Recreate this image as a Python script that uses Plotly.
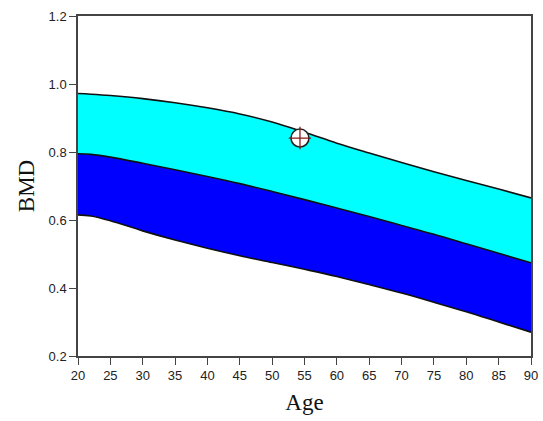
import plotly.graph_objects as go

ages = [20, 22, 25, 30, 35, 40, 45, 50, 55, 60, 65, 70, 75, 80, 85, 90]
upper = [0.972, 0.970, 0.966, 0.957, 0.945, 0.930, 0.912, 0.888, 0.858, 0.826, 0.797, 0.769, 0.742, 0.716, 0.691, 0.665]
middle = [0.795, 0.793, 0.785, 0.767, 0.748, 0.728, 0.707, 0.684, 0.660, 0.635, 0.610, 0.584, 0.558, 0.530, 0.502, 0.474]
lower = [0.615, 0.612, 0.598, 0.568, 0.541, 0.517, 0.495, 0.475, 0.455, 0.434, 0.410, 0.385, 0.358, 0.330, 0.300, 0.270]

patient_age = [54.3]
patient_bmd = [0.841]

line_style = dict(color="#111111", width=1.6, shape="spline", smoothing=1.0)

fig = go.Figure()
fig.add_trace(go.Scatter(x=ages, y=lower, mode="lines", line=line_style, showlegend=False))
fig.add_trace(go.Scatter(x=ages, y=middle, mode="lines", line=line_style, fill="tonexty",
                         fillcolor="#0000FF", showlegend=False))
fig.add_trace(go.Scatter(x=ages, y=upper, mode="lines", line=line_style, fill="tonexty",
                         fillcolor="#00FFFF", showlegend=False))
fig.add_trace(go.Scatter(x=patient_age, y=patient_bmd, mode="markers",
                         marker=dict(symbol="circle", size=18, color="white",
                                     line=dict(color="#222222", width=1.6)),
                         showlegend=False))
fig.add_trace(go.Scatter(x=patient_age, y=patient_bmd, mode="markers",
                         marker=dict(symbol="cross-thin", size=16,
                                     line=dict(color="#8B1A1A", width=1.3)),
                         showlegend=False))

axis_common = dict(showline=True, linecolor="#444444", linewidth=1.5, mirror=True,
                   ticks="outside", ticklen=7, tickcolor="#444444", tickwidth=1.3,
                   showgrid=False, zeroline=False, automargin=False,
                   tickfont=dict(family="Liberation Sans, Arial", size=13, color="#222222"))

title_font = dict(family="Liberation Serif, Times New Roman", size=23, color="#111111")

fig.update_layout(
    width=543, height=421,
    margin=dict(l=78, r=12, t=16, b=65),
    paper_bgcolor="white", plot_bgcolor="white",
    xaxis=dict(range=[20, 90], tickvals=list(range(20, 91, 5)),
               title=dict(text="Age", font=title_font, standoff=12),
               **axis_common),
    yaxis=dict(range=[0.2, 1.2], tickvals=[0.2, 0.4, 0.6, 0.8, 1.0, 1.2], tickformat=".1f",
               title=dict(text="BMD", font=title_font, standoff=8),
               **axis_common),
)

fig.write_html("out.html", config={"displayModeBar": False},
               post_script="document.body.style.margin='0';document.body.style.overflow='hidden';")
